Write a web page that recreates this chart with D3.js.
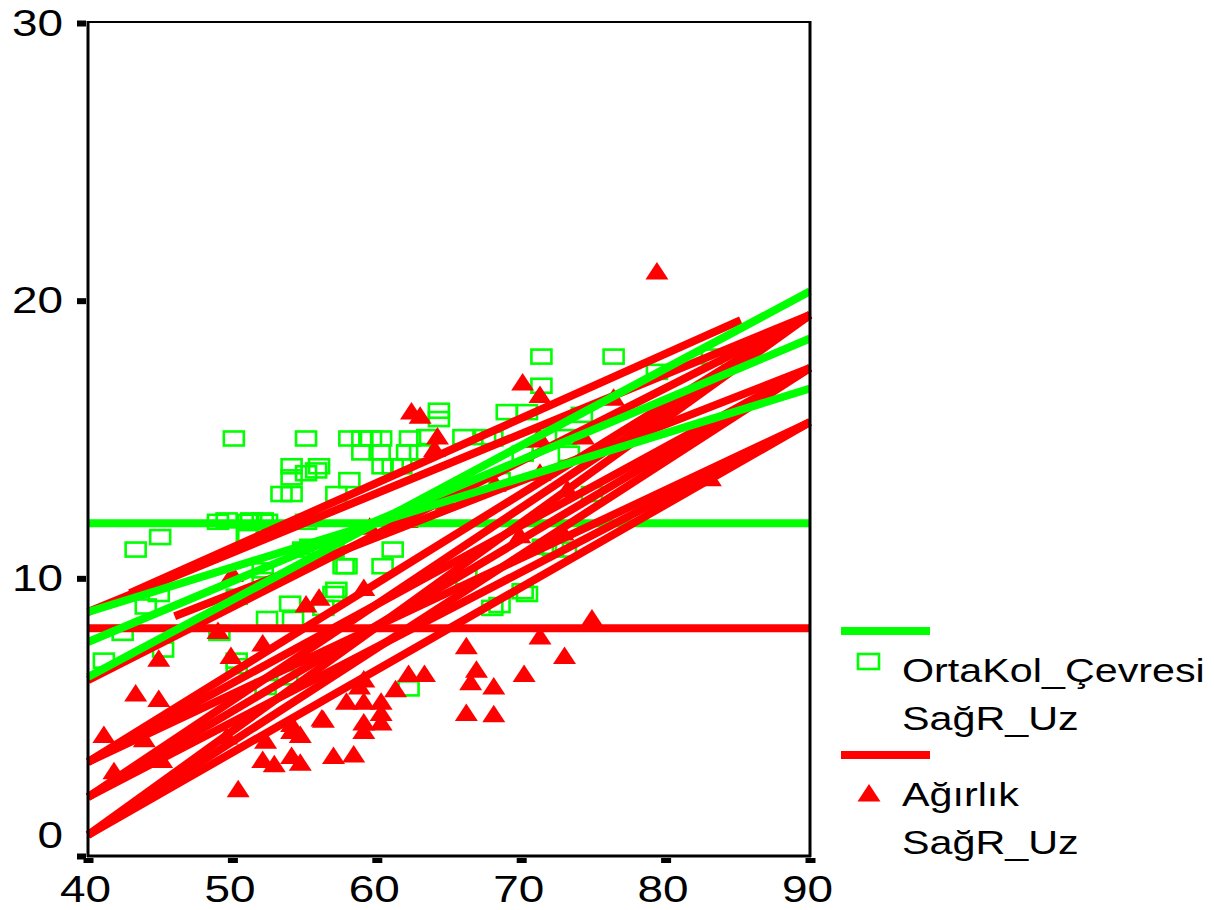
<!DOCTYPE html>
<html>
<head>
<meta charset="utf-8">
<script src="https://d3js.org/d3.v7.min.js"></script>
<style>
  body { margin: 0; background: #fff; }
  text { font-family: "Liberation Sans", Arial, sans-serif; fill: #000; }
</style>
</head>
<body>
<svg id="chart" width="1214" height="910"></svg>
<script>
// tick values
const xTicks = [40, 50, 60, 70, 80, 90]
const yTicks = [0, 10, 20, 30]

// OrtaKol_Çevresi / SağR_Uz (green squares)
const ortaKolPoints = [
  [50.1, 15.0], [55.1, 15.0], [58.1, 15.0], [59.0, 15.0], [59.6, 15.0], [60.3, 15.0],
  [62.3, 15.0], [63.5, 15.05], [66.0, 15.05], [67.5, 15.05], [68.0, 15.0], [73.1, 15.05],
  [64.3, 16.0], [64.3, 15.7], [69.0, 15.95], [70.4, 15.95], [74.2, 15.85],
  [71.4, 17.95], [76.4, 17.95], [83.2, 17.95], [79.4, 17.4], [71.4, 16.9],
  [54.1, 14.0], [56.0, 14.0], [55.1, 13.75], [54.1, 13.6], [53.4, 13.0], [54.1, 13.0],
  [57.2, 13.0], [58.1, 13.5], [59.0, 14.5], [60.2, 14.5], [61.1, 14.0], [62.1, 14.5],
  [63.0, 14.5], [60.4, 14.0], [61.7, 14.0], [55.8, 13.85],
  [70.1, 14.45], [73.3, 14.45], [68.5, 13.5], [74.9, 13.0],
  [49.0, 12.0], [49.6, 12.05], [51.1, 12.0], [51.3, 12.05], [52.4, 12.0], [52.1, 12.05], [55.1, 12.0],
  [45.0, 11.45], [43.3, 11.0], [51.0, 11.55], [51.1, 11.45],
  [44.9, 9.4], [44.0, 8.95], [50.3, 9.3], [52.1, 9.9], [52.4, 8.5], [54.2, 8.5], [57.2, 9.55],
  [41.1, 7.0], [45.2, 7.4], [49.1, 8.0], [50.3, 7.0], [52.3, 6.05], [53.8, 6.4], [56.3, 8.9],
  [42.4, 8.0], [50.3, 6.8],
  [57.0, 11.0], [55.4, 11.1], [54.9, 11.0], [56.8, 11.1], [57.9, 10.4], [57.0, 9.4],
  [68.0, 8.9], [70.4, 9.4], [73.1, 11.0], [66.2, 10.0], [71.5, 11.1], [72.2, 11.05],
  [70.1, 9.5], [68.5, 9.0], [62.2, 6.0], [52.1, 10.25], [54.0, 9.05], [57.7, 10.4],
  [61.1, 11.0], [60.4, 10.4]
]

// Ağırlık / SağR_Uz (red triangles)
const agirlikPoints = [
  [79.4, 21.0], [41.1, 4.3], [41.8, 3.0], [43.3, 5.8], [44.9, 5.6], [44.9, 7.05], [43.9, 4.15],
  [45.1, 3.4], [50.4, 2.35], [49.9, 7.15], [49.0, 8.05], [52.1, 7.6], [49.6, 4.25], [52.3, 4.1],
  [52.1, 3.4], [52.9, 3.25], [54.1, 3.55], [54.1, 4.45], [54.1, 4.7], [56.2, 4.9], [57.0, 3.55],
  [58.4, 3.6], [59.1, 6.3], [57.9, 5.5], [59.1, 5.5], [60.3, 5.5], [60.3, 5.1], [59.1, 4.75],
  [60.3, 4.75], [59.1, 4.45], [61.3, 5.95], [62.2, 6.5], [63.3, 6.5], [56.3, 4.85], [66.2, 7.5],
  [66.9, 6.65], [66.5, 6.2], [68.1, 6.05], [66.2, 5.1], [68.1, 5.05], [70.2, 6.5], [71.3, 7.85],
  [73.0, 7.15], [74.9, 8.5], [50.0, 10.1], [55.1, 9.0], [56.0, 9.25], [59.1, 9.6], [70.1, 17.0],
  [71.3, 16.55], [62.4, 15.95], [64.2, 15.05], [64.0, 14.6], [71.3, 15.0], [74.3, 15.05],
  [76.4, 16.45], [68.2, 13.35], [71.3, 13.75], [64.8, 12.7], [62.1, 12.05], [59.5, 11.8],
  [73.2, 13.15], [69.9, 11.5], [72.9, 11.6], [83.1, 13.55], [63.0, 15.8], [58.8, 6.05],
  [71.1, 14.95], [54.7, 4.3], [54.7, 3.3]
]

// fit lines: [x1, y1, x2, y2]
const ortaKolMean = 11.95
const ortaKolFits = [
  [40, 6.41, 90, 20.3],
  [40, 7.67, 90, 18.6],
  [40, 8.75, 90, 16.8]
]
const agirlikMean = 8.17
const agirlikFits = [
  [40, 8.75, 90, 19.45],
  [42.9, 9.43, 85.2, 19.26],
  [46, 8.6, 90, 17.54],
  [40, 6.3, 90, 19.45],
  [40, 3.35, 90, 19.45],
  [40, 3.35, 90, 17.54],
  [40, 3.35, 90, 15.59],
  [40, 2.09, 90, 19.45],
  [40, 2.09, 90, 17.54],
  [40, 2.09, 90, 15.59],
  [40, 0.72, 90, 19.45],
  [40, 0.72, 90, 17.54],
  [40, 0.72, 90, 15.59]
]

const legendItems = [
  { label: 'OrtaKol_Çevresi', sub: 'SağR_Uz', color: '#00ff00', shape: 'square' },
  { label: 'Ağırlık', sub: 'SağR_Uz', color: '#ff0000', shape: 'triangle' }
]

const GREEN = '#00ff00'
const RED = '#ff0000'

const svg = d3.select('#chart')
const x = d3.scaleLinear().domain([40, 90]).range([88, 810])
const y = d3.scaleLinear().domain([0, 30]).range([855, 22])

const triPath = 'M0,-10L11.5,7.5L-11.5,7.5Z'

// stretch text horizontally like the original rendering
function stretch(selection, k) {
  selection.each(function () {
    const w = this.getComputedTextLength()
    d3.select(this)
      .attr('textLength', w * k)
      .attr('lengthAdjust', 'spacingAndGlyphs')
  })
}

const plot = svg.append('g')

// points
plot.append('g').selectAll('rect')
  .data(ortaKolPoints)
  .join('rect')
  .attr('x', d => x(d[0]) - 10)
  .attr('y', d => y(d[1]) - 7)
  .attr('width', 20)
  .attr('height', 14)
  .attr('fill', 'none')
  .attr('stroke', GREEN)
  .attr('stroke-width', 2.6)

plot.append('g').selectAll('path')
  .data(agirlikPoints)
  .join('path')
  .attr('d', triPath)
  .attr('transform', d => `translate(${x(d[0])},${y(d[1])})`)
  .attr('fill', RED)

// fit lines
function drawMean(mean, color) {
  plot.append('line')
    .attr('x1', x(40)).attr('x2', x(90))
    .attr('y1', y(mean)).attr('y2', y(mean))
    .attr('stroke', color)
    .attr('stroke-width', 8)
}

function drawFits(fits, color) {
  plot.append('g').selectAll('line')
    .data(fits)
    .join('line')
    .attr('x1', d => x(d[0])).attr('y1', d => y(d[1]))
    .attr('x2', d => x(d[2])).attr('y2', d => y(d[3]))
    .attr('stroke', color)
    .attr('stroke-width', 8)
}

drawMean(ortaKolMean, GREEN)
drawMean(agirlikMean, RED)
drawFits(agirlikFits, RED)
drawFits(ortaKolFits, GREEN)

// frame
const frame = svg.append('g').attr('stroke', '#000').attr('fill', 'none')
frame.append('line').attr('x1', 88).attr('x2', 810).attr('y1', 22).attr('y2', 22).attr('stroke-width', 2)
frame.append('line').attr('x1', 88).attr('x2', 88).attr('y1', 21).attr('y2', 857).attr('stroke-width', 3)
frame.append('line').attr('x1', 810).attr('x2', 810).attr('y1', 21).attr('y2', 857).attr('stroke-width', 3)
frame.append('line').attr('x1', 87).attr('x2', 811).attr('y1', 856).attr('y2', 856).attr('stroke-width', 3)

// x axis
const xAxis = svg.append('g')
  .attr('transform', 'translate(0,856)')
  .call(d3.axisBottom(x).tickValues(xTicks).tickSize(0))
xAxis.select('.domain').remove()
xAxis.selectAll('.tick').append('rect')
  .attr('x', -5).attr('y', 2).attr('width', 10).attr('height', 5)
  .attr('fill', '#000')
xAxis.selectAll('.tick text')
  .attr('y', 46).attr('dy', 0).attr('dx', -3)
  .attr('font-size', 37)
  .attr('font-family', '"Liberation Sans", Arial, sans-serif')
  .attr('fill', '#000')
  .call(stretch, 1.24)

// y axis
const yAxis = svg.append('g')
  .attr('transform', 'translate(88,0)')
  .call(d3.axisLeft(y).tickValues(yTicks).tickSize(0))
yAxis.select('.domain').remove()
yAxis.selectAll('.tick').append('rect')
  .attr('x', -11).attr('y', -2).attr('width', 9).attr('height', 6)
  .attr('fill', '#000')
yAxis.selectAll('.tick text')
  .attr('x', -25)
  .attr('dy', d => d === 0 ? -8 : 13)
  .attr('font-size', 37)
  .attr('font-family', '"Liberation Sans", Arial, sans-serif')
  .attr('fill', '#000')
  .call(stretch, 1.24)

// legend
const legend = svg.append('g').attr('transform', 'translate(841,0)')
legendItems.forEach((item, i) => {
  const top = 631 + i * 124
  const g = legend.append('g').attr('transform', `translate(0,${top})`)
  g.append('line')
    .attr('x1', 0).attr('x2', 89)
    .attr('y1', 0).attr('y2', 0)
    .attr('stroke', item.color)
    .attr('stroke-width', 8)
  if (item.shape === 'square') {
    g.append('rect')
      .attr('x', 17).attr('y', 23).attr('width', 21).attr('height', 15)
      .attr('fill', 'none').attr('stroke', item.color).attr('stroke-width', 2.6)
  } else {
    g.append('path')
      .attr('d', triPath)
      .attr('transform', 'translate(28,39)')
      .attr('fill', item.color)
  }
  g.append('text')
    .attr('x', 61).attr('y', 51)
    .attr('font-size', 32.5)
    .text(item.label)
    .call(stretch, 1.27)
  g.append('text')
    .attr('x', 61).attr('y', 99)
    .attr('font-size', 32.5)
    .text(item.sub)
    .call(stretch, 1.27)
})
</script>
</body>
</html>
